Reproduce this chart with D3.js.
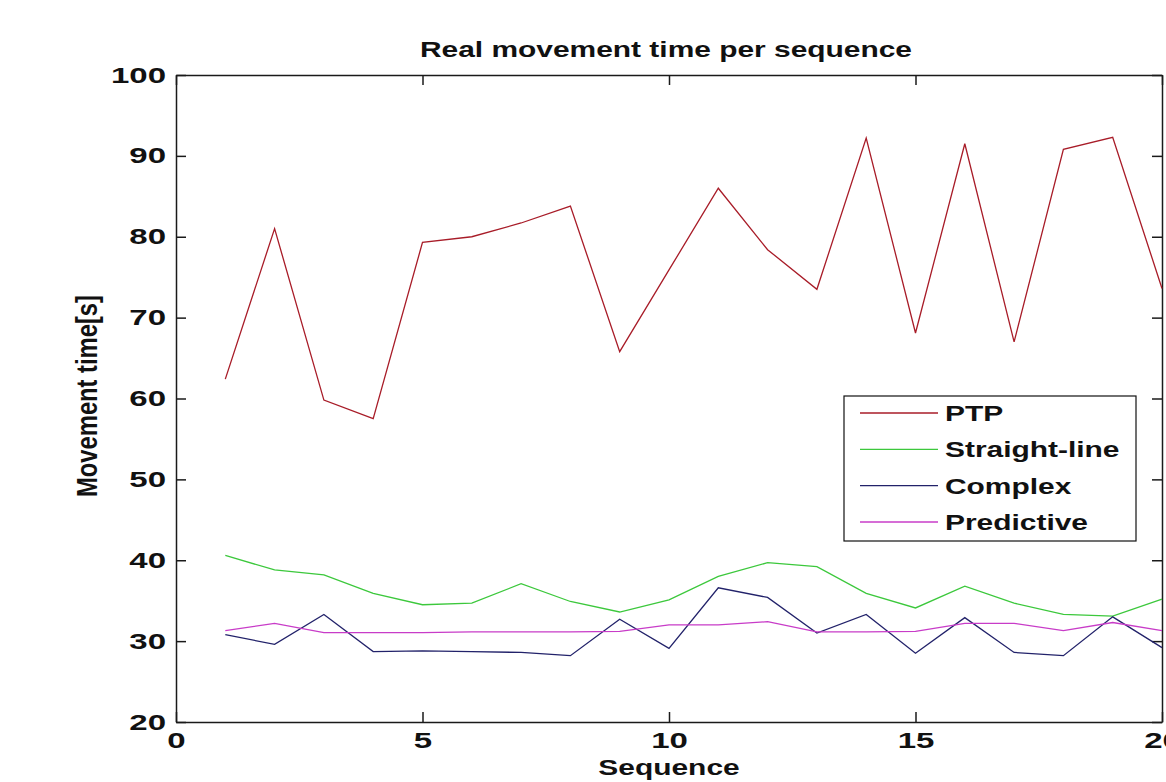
<!DOCTYPE html>
<html>
<head>
<meta charset="utf-8">
<script src="https://cdn.jsdelivr.net/npm/d3@7"></script>
<style>
  body { margin: 0; background: white; }
  text { font-family: "Liberation Sans", Arial, sans-serif; font-weight: bold; fill: #111; }
</style>
</head>
<body>
<div id="viz"></div>
<script>
const sequence = [1, 2, 3, 4, 5, 6, 7, 8, 9, 10, 11, 12, 13, 14, 15, 16, 17, 18, 19, 20];
const ptp = [62.4, 81.0, 59.8, 57.5, 79.3, 80.0, 81.7, 83.8, 65.8, 75.9, 86.0, 78.4, 73.5, 92.2, 68.1, 91.5, 67.0, 90.8, 92.3, 73.6];
const straightLine = [40.6, 38.8, 38.2, 35.9, 34.5, 34.7, 37.1, 34.9, 33.6, 35.1, 38.0, 39.7, 39.2, 35.9, 34.1, 36.8, 34.7, 33.3, 33.1, 35.2];
const complex = [30.8, 29.6, 33.3, 28.7, 28.8, 28.7, 28.6, 28.2, 32.7, 29.1, 36.6, 35.4, 31.0, 33.3, 28.5, 32.9, 28.6, 28.2, 33.0, 29.2];
const predictive = [31.3, 32.2, 31.05, 31.05, 31.05, 31.15, 31.15, 31.15, 31.2, 32.0, 32.0, 32.4, 31.15, 31.15, 31.2, 32.2, 32.2, 31.3, 32.3, 31.3];

const seriesNames = ["PTP", "Straight-line", "Complex", "Predictive"];
const seriesColors = ["#a81c28", "#3cc83c", "#22226a", "#c83cc8"];
const xTicks = [0, 5, 10, 15, 20];
const yTicks = [20, 30, 40, 50, 60, 70, 80, 90, 100];

const width = 1166;
const height = 782;
// the original picture is stretched sideways, so text is too
const sx = 1.36;
const tickSx = 1.5;
const fontSize = "22px";

const svg = d3.select("#viz")
    .append("svg")
    .attr("width", width)
    .attr("height", height)
    .style("background-color", "white");

const x = d3.scaleLinear().domain([0, 20]).range([176, 1162]);
const y = d3.scaleLinear().domain([20, 100]).range([722, 75]);

const styleAxis = g => {
    g.selectAll("path.domain").attr("stroke", "#1a1a1a").attr("stroke-width", 1.5);
    g.selectAll(".tick line").attr("stroke", "#1a1a1a").attr("stroke-width", 1.5);
    g.selectAll("text").style("font-size", fontSize).attr("fill", "#111");
};

// bottom
svg.append("g")
    .attr("transform", `translate(0,${y(20)})`)
    .call(d3.axisBottom(x).tickValues(xTicks).tickSizeInner(-10).tickSizeOuter(0).tickPadding(10))
    .call(styleAxis)
    .call(g => g.selectAll("text").attr("transform", `scale(${tickSx},1)`));

// top
svg.append("g")
    .attr("transform", `translate(0,${y(100)})`)
    .call(d3.axisTop(x).tickValues(xTicks).tickSizeInner(-10).tickSizeOuter(0).tickFormat(""))
    .call(styleAxis);

// left
svg.append("g")
    .attr("transform", `translate(${x(0)},0)`)
    .call(d3.axisLeft(y).tickValues(yTicks).tickSizeInner(-10).tickSizeOuter(0))
    .call(styleAxis)
    .call(g => g.selectAll("text")
        .attr("x", -10 / tickSx)
        .attr("transform", `scale(${tickSx},1)`));

// right
svg.append("g")
    .attr("transform", `translate(${x(20)},0)`)
    .call(d3.axisRight(y).tickValues(yTicks).tickSizeInner(-10).tickSizeOuter(0).tickFormat(""))
    .call(styleAxis);

const allSeries = [ptp, straightLine, complex, predictive];

const line = d3.line()
    .x((d, i) => x(sequence[i]))
    .y(d => y(d));

svg.selectAll("path.series")
    .data(allSeries)
    .enter()
    .append("path")
    .attr("class", "series")
    .attr("d", d => line(d))
    .attr("fill", "none")
    .attr("stroke", (d, i) => seriesColors[i])
    .attr("stroke-width", 1.3);

// title
svg.append("text")
    .attr("transform", `translate(666,57) scale(${sx},1)`)
    .attr("text-anchor", "middle")
    .style("font-size", fontSize)
    .text("Real movement time per sequence");

// x label
svg.append("text")
    .attr("transform", `translate(${x(10)},775) scale(${sx},1)`)
    .attr("text-anchor", "middle")
    .style("font-size", fontSize)
    .text("Sequence");

// y label
svg.append("text")
    .attr("transform", `translate(97,396) rotate(-90) scale(1.08,${sx})`)
    .attr("text-anchor", "middle")
    .style("font-size", fontSize)
    .text("Movement time[s]");

// legend
const legend = svg.append("g");
legend.append("rect")
    .attr("x", 844).attr("y", 396)
    .attr("width", 292).attr("height", 145)
    .attr("fill", "white")
    .attr("stroke", "#111")
    .attr("stroke-width", 1.2);

const rowY = d3.scaleLinear().domain([0, 3]).range([413, 522]);

const rows = legend.selectAll("g.row")
    .data(seriesNames)
    .enter()
    .append("g")
    .attr("class", "row")
    .attr("transform", (d, i) => `translate(0,${rowY(i)})`);

rows.append("line")
    .attr("x1", 860).attr("x2", 938)
    .attr("stroke", (d, i) => seriesColors[i])
    .attr("stroke-width", 1.3);

rows.append("text")
    .attr("transform", `translate(945,8) scale(${sx},1)`)
    .style("font-size", fontSize)
    .text(d => d);
</script>
</body>
</html>
